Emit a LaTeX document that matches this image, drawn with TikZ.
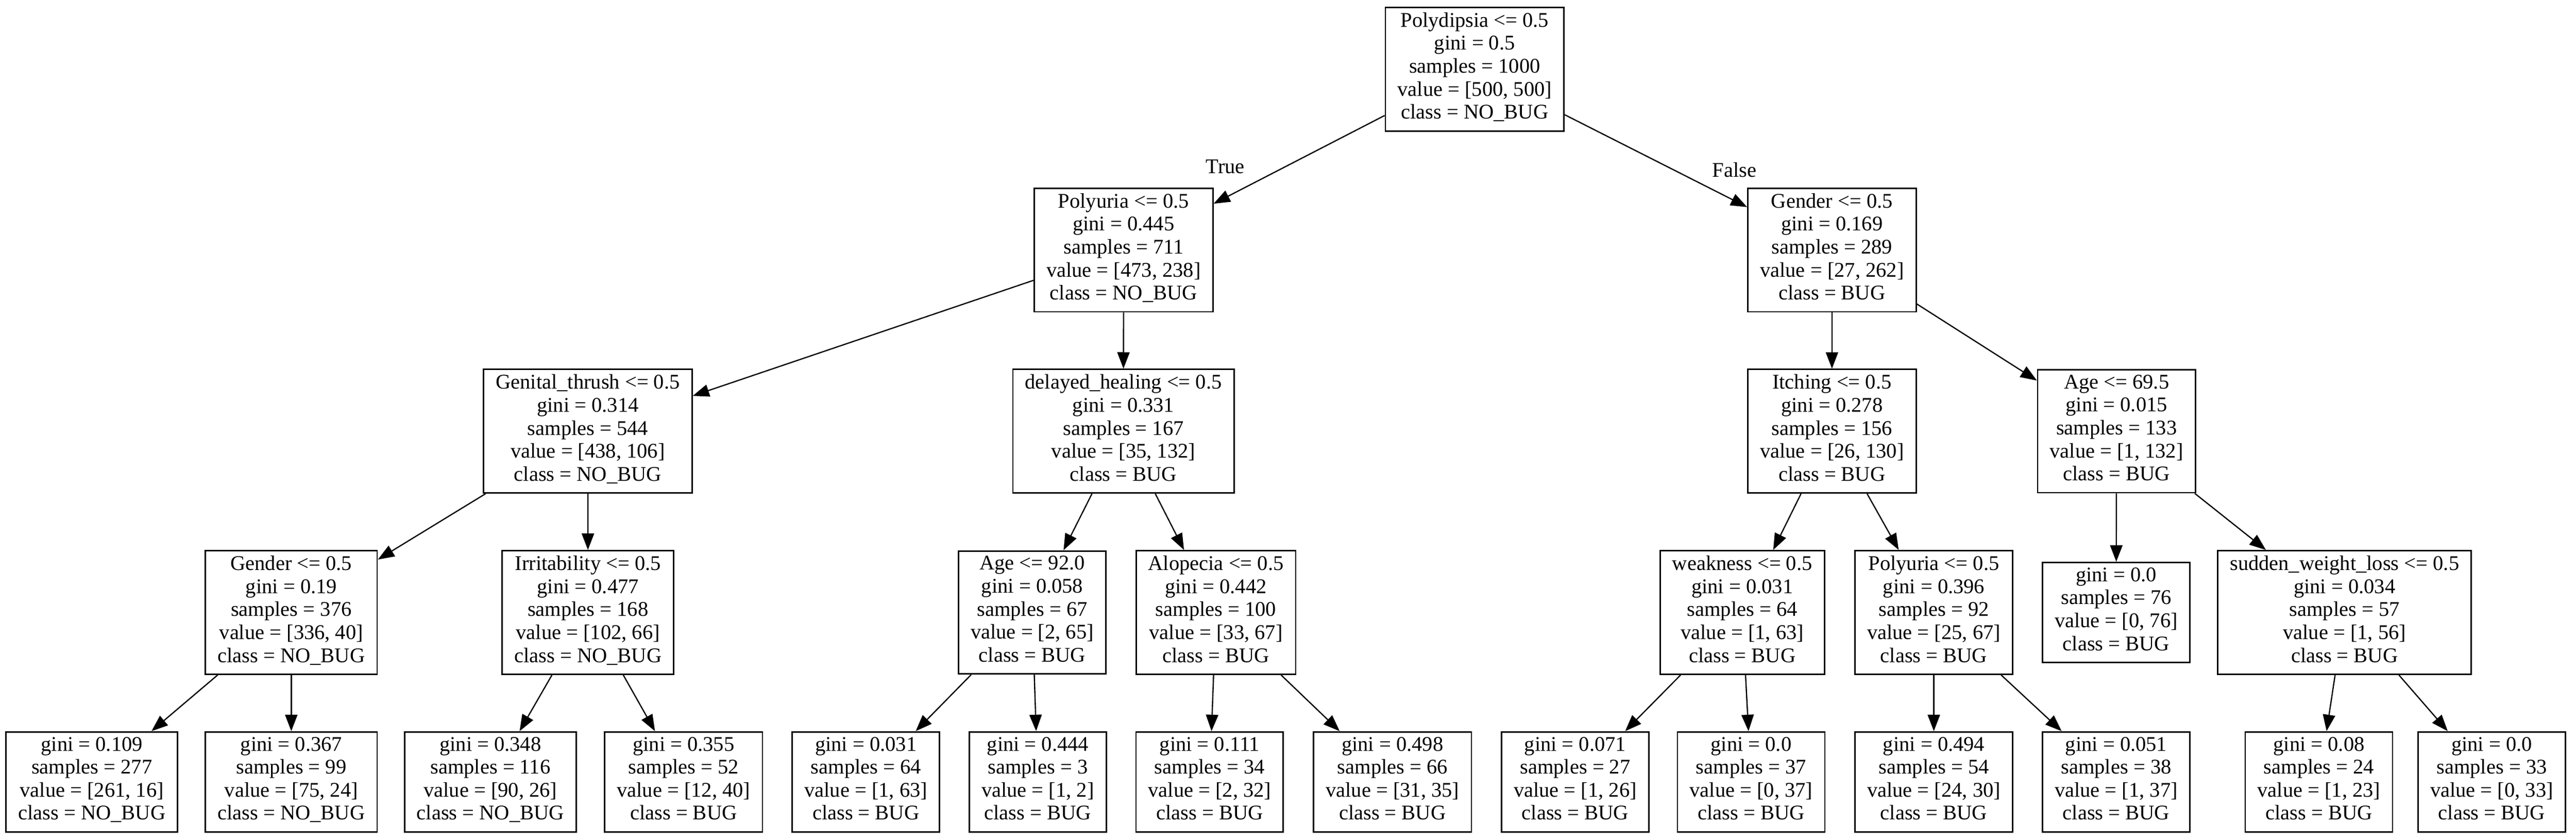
\documentclass[tikz,border=0pt]{standalone}
\usepackage{fontspec}
\setmainfont{Liberation Serif}
\usetikzlibrary{arrows.meta}

\begin{document}
\begin{tikzpicture}
          [x=1pt,y=-1pt,
          font=\fontsize{12.7}{14}\selectfont,
          node/.style={shape=rectangle,draw=black,fill=white,text=black,align=center,inner xsep=7.4pt,inner ysep=3.1pt,line width=0.9pt,execute at begin node=\strut,execute at end node=\strut},
          lbl/.style={inner sep=0pt},
          arc/.style={-{Triangle[length=10pt,width=7.5pt]},line width=0.75pt}]

          \useasboundingbox (0,0) rectangle (1568,511.1);

            \node (0) [node] at (897.6,42.1) {Polydipsia <= 0.5\\gini = 0.5\\samples = 1000\\value = [500, 500]\\class = NO\_BUG};

            \node (1) [node] at (683.9,152.1) {Polyuria <= 0.5\\gini = 0.445\\samples = 711\\value = [473, 238]\\class = NO\_BUG};
            \node (16) [node] at (1115.1,152.1) {Gender <= 0.5\\gini = 0.169\\samples = 289\\value = [27, 262]\\class = BUG};

            \node (2) [node] at (357.8,262.4) {Genital\_thrush <= 0.5\\gini = 0.314\\samples = 544\\value = [438, 106]\\class = NO\_BUG};
            \node (9) [node] at (683.8,262.4) {delayed\_healing <= 0.5\\gini = 0.331\\samples = 167\\value = [35, 132]\\class = BUG};
            \node (17) [node] at (1115.1,262.4) {Itching <= 0.5\\gini = 0.278\\samples = 156\\value = [26, 130]\\class = BUG};
            \node (24) [node] at (1288.3,262.4) {Age <= 69.5\\gini = 0.015\\samples = 133\\value = [1, 132]\\class = BUG};

            \node (3) [node] at (177.3,372.7) {Gender <= 0.5\\gini = 0.19\\samples = 376\\value = [336, 40]\\class = NO\_BUG};
            \node (6) [node] at (357.9,372.7) {Irritability <= 0.5\\gini = 0.477\\samples = 168\\value = [102, 66]\\class = NO\_BUG};
            \node (10) [node] at (628.3,372.7) {Age <= 92.0\\gini = 0.058\\samples = 67\\value = [2, 65]\\class = BUG};
            \node (13) [node] at (740.1,372.7) {Alopecia <= 0.5\\gini = 0.442\\samples = 100\\value = [33, 67]\\class = BUG};
            \node (18) [node] at (1060.5,372.7) {weakness <= 0.5\\gini = 0.031\\samples = 64\\value = [1, 63]\\class = BUG};
            \node (21) [node] at (1177.1,372.7) {Polyuria <= 0.5\\gini = 0.396\\samples = 92\\value = [25, 67]\\class = BUG};
            \node (25) [node] at (1288.1,372.7) {gini = 0.0\\samples = 76\\value = [0, 76]\\class = BUG};
            \node (26) [node] at (1427.1,372.7) {sudden\_weight\_loss <= 0.5\\gini = 0.034\\samples = 57\\value = [1, 56]\\class = BUG};

%           leaves
            \node (4) [node] at (55.9,475.8) {gini = 0.109\\samples = 277\\value = [261, 16]\\class = NO\_BUG};
            \node (5) [node] at (177.3,475.8) {gini = 0.367\\samples = 99\\value = [75, 24]\\class = NO\_BUG};
            \node (7) [node] at (298.5,475.8) {gini = 0.348\\samples = 116\\value = [90, 26]\\class = NO\_BUG};
            \node (8) [node] at (416.1,475.8) {gini = 0.355\\samples = 52\\value = [12, 40]\\class = BUG};
            \node (11) [node] at (527.1,475.8) {gini = 0.031\\samples = 64\\value = [1, 63]\\class = BUG};
            \node (12) [node] at (631.7,475.8) {gini = 0.444\\samples = 3\\value = [1, 2]\\class = BUG};
            \node (14) [node] at (736.3,475.8) {gini = 0.111\\samples = 34\\value = [2, 32]\\class = BUG};
            \node (15) [node] at (847.6,475.8) {gini = 0.498\\samples = 66\\value = [31, 35]\\class = BUG};
            \node (19) [node] at (958.8,475.8) {gini = 0.071\\samples = 27\\value = [1, 26]\\class = BUG};
            \node (20) [node] at (1065.9,475.8) {gini = 0.0\\samples = 37\\value = [0, 37]\\class = BUG};
            \node (22) [node] at (1177.1,475.8) {gini = 0.494\\samples = 54\\value = [24, 30]\\class = BUG};
            \node (23) [node] at (1288.1,475.8) {gini = 0.051\\samples = 38\\value = [1, 37]\\class = BUG};
            \node (27) [node] at (1411.5,475.8) {gini = 0.08\\samples = 24\\value = [1, 23]\\class = BUG};
            \node (28) [node] at (1516.7,475.8) {gini = 0.0\\samples = 33\\value = [0, 33]\\class = BUG};

            \node (T) [lbl] at (745.8,101.4) {True};
            \node (F) [lbl] at (1055.7,103.4) {False};

            \draw [arc] (0) -- (1);
            \draw [arc] (0) -- (16);
            \draw [arc] (1) -- (2);
            \draw [arc] (1) -- (9);
            \draw [arc] (2) -- (3);
            \draw [arc] (2) -- (6);
            \draw [arc] (3) -- (4);
            \draw [arc] (3) -- (5);
            \draw [arc] (6) -- (7);
            \draw [arc] (6) -- (8);
            \draw [arc] (9) -- (10);
            \draw [arc] (9) -- (13);
            \draw [arc] (10) -- (11);
            \draw [arc] (10) -- (12);
            \draw [arc] (13) -- (14);
            \draw [arc] (13) -- (15);
            \draw [arc] (16) -- (17);
            \draw [arc] (16) -- (24);
            \draw [arc] (17) -- (18);
            \draw [arc] (17) -- (21);
            \draw [arc] (18) -- (19);
            \draw [arc] (18) -- (20);
            \draw [arc] (21) -- (22);
            \draw [arc] (21) -- (23);
            \draw [arc] (24) -- (25);
            \draw [arc] (24) -- (26);
            \draw [arc] (26) -- (27);
            \draw [arc] (26) -- (28);

\end{tikzpicture}
\end{document}
